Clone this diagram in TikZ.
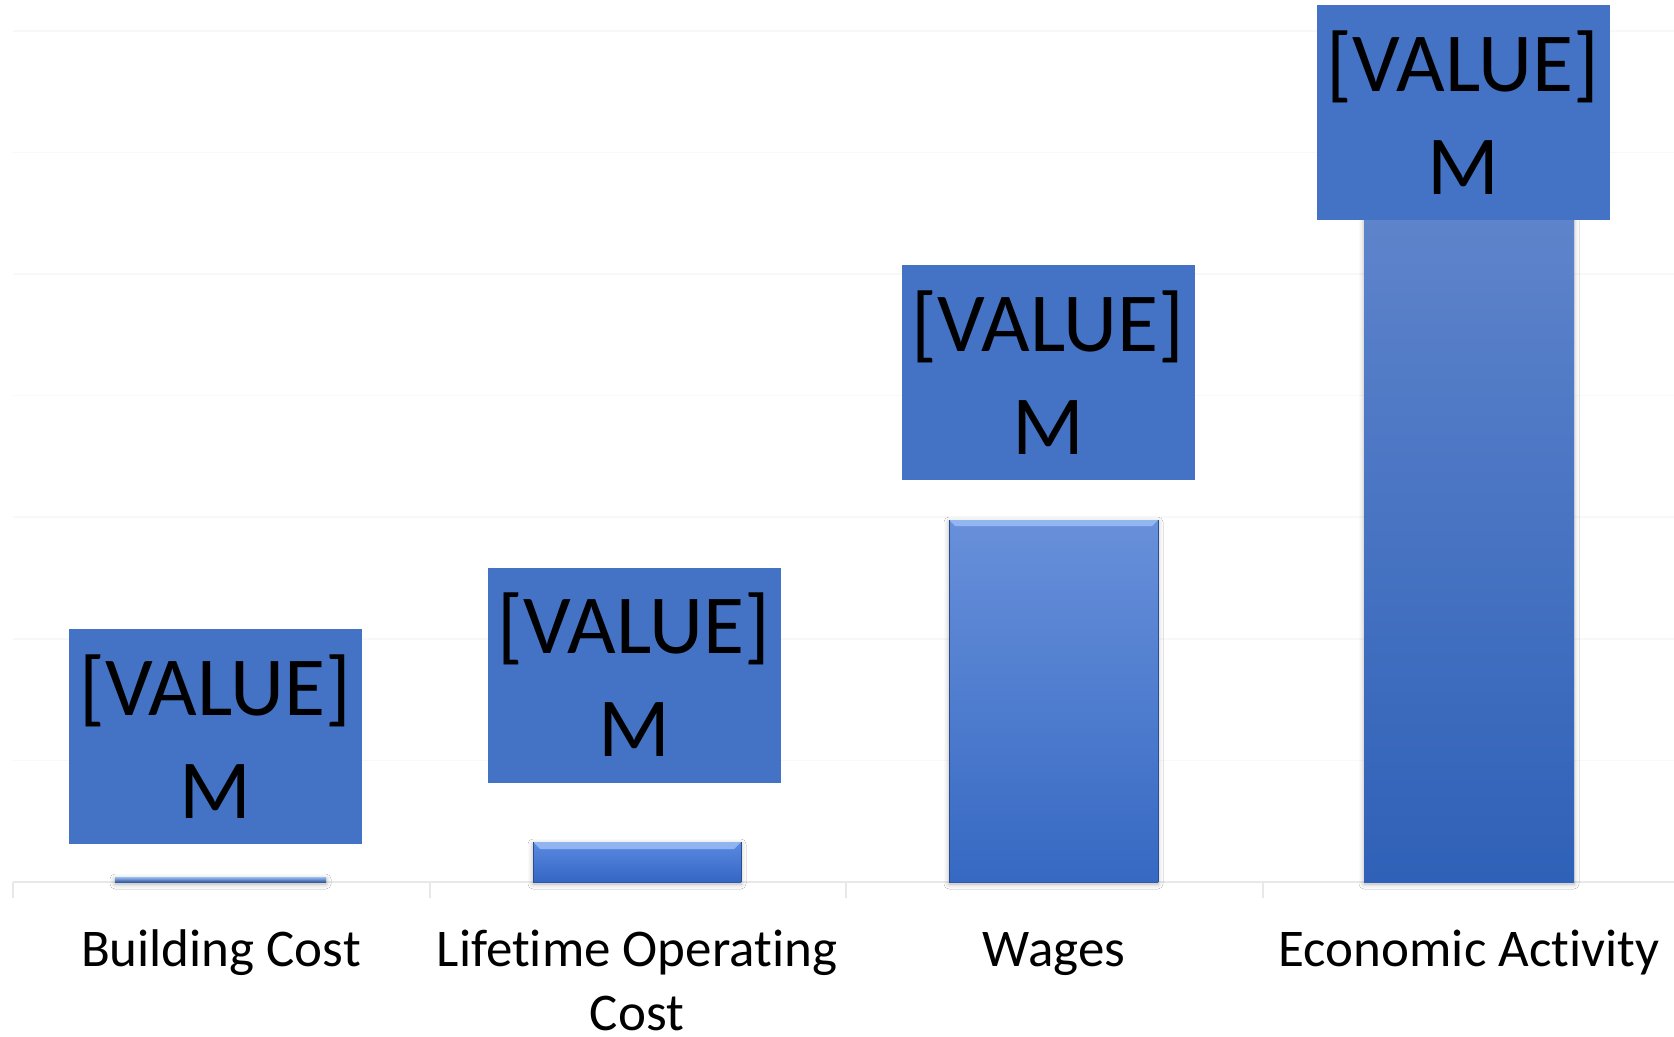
\documentclass[tikz,border=0pt]{standalone}
\usepackage{fontspec}
\setmainfont{Carlito}[Ligatures={NoCommon}]
\usetikzlibrary{shadows.blur}
\definecolor{lblblue}{HTML}{4472C4}
\definecolor{gridgray}{HTML}{F8F8F8}
\definecolor{axisgray}{HTML}{E8E8E8}
\definecolor{edgeblue}{HTML}{2B4D8C}
\definecolor{hiblue}{HTML}{9ABDF4}
\tikzset{
  valbox/.style={fill=lblblue, inner sep=0pt, minimum width=146.5pt, minimum height=107.5pt,
    align=center, font=\fontsize{42}{51.5}\selectfont, text=black},
  catlabel/.style={align=center, font=\fontsize{26.5}{32}\selectfont, text=black, anchor=base, inner sep=0pt},
  gridline/.style={draw=gridgray, line width=0.75pt},
  axisline/.style={draw=axisgray, line width=1pt},
  barshadow/.style={blur shadow={shadow xshift=0pt, shadow yshift=-1pt, shadow blur radius=2.5pt, shadow opacity=30}},
  baredge/.style={draw=edgeblue, line width=0.5pt},
  barhi/.style={fill=hiblue, fill opacity=0.85},
}
\newcommand\bevelbar[6]{%
  \shade[barshadow, top color=#5, bottom color=#6] (#1,#2) rectangle (#3,#4);
  \fill[barhi] (#1,#2) -- (#3,#2) -- ({#3-7},{#2+7}) -- ({#1+7},{#2+7}) -- cycle;
  \draw[baredge] (#1,#2) -- (#1,#4) (#3,#2) -- (#3,#4);
  \draw[edgeblue, line width=0.5pt, opacity=0.5] (#1,#4) -- (#3,#4);
}
\begin{document}
\begin{tikzpicture}[x=0.5pt, y=-0.5pt]
\useasboundingbox (0,0) rectangle (1674,1037);
\fill[white] (0,0) rectangle (1674,1037);
% gridlines
\foreach \k in {1,...,7} {
  \draw[gridline] (13,{882-121.6*\k}) -- (1674,{882-121.6*\k});
}
% axis and ticks
\draw[axisline] (13,882) -- (1674,882);
\foreach \tx in {13,429.5,846,1262.5} {
  \draw[axisline] (\tx,882) -- (\tx,898);
}
% bars
\shade[barshadow, top color=hiblue, bottom color=lblblue!80!black] (115,877) rectangle (326,882);
\bevelbar{533}{842}{741}{882}{{rgb,255:red,90;green,137;blue,225}}{{rgb,255:red,52;green,102;blue,196}}
\shade[barshadow, top color={rgb,255:red,104;green,144;blue,218}, middle color={rgb,255:red,76;green,126;blue,214}, bottom color={rgb,255:red,54;green,105;blue,195}] (949,520) rectangle (1158,882);
\fill[barhi] (949,520) -- (1158,520) -- (1152,526) -- (955,526) -- cycle;
\draw[baredge] (949,520) -- (949,882) (1158,520) -- (1158,882);
\draw[edgeblue, line width=0.5pt, opacity=0.5] (949,882) -- (1158,882);
\shade[barshadow, top color={rgb,255:red,94;green,132;blue,203}, bottom color={rgb,255:red,47;green,97;blue,184}] (1364,215) rectangle (1574,882);
% value labels
\node[valbox] (vb) at (215.5,736.5) {[VALUE]\\M};
\node[valbox] (vl) at (634,675) {[VALUE]\\M};
\node[valbox] (vw) at (1048,372.5) {[VALUE]\\M};
\node[valbox] (ve) at (1463,113) {[VALUE]\\M};
% category labels
\node[catlabel] (cb) at (221,966) {Building Cost};
\node[catlabel] (cl) at (637,1030) {Lifetime Operating\\Cost};
\node[catlabel] (cw) at (1054,966) {Wages};
\node[catlabel] (ce) at (1469,966) {Economic Activity};
\end{tikzpicture}
\end{document}
